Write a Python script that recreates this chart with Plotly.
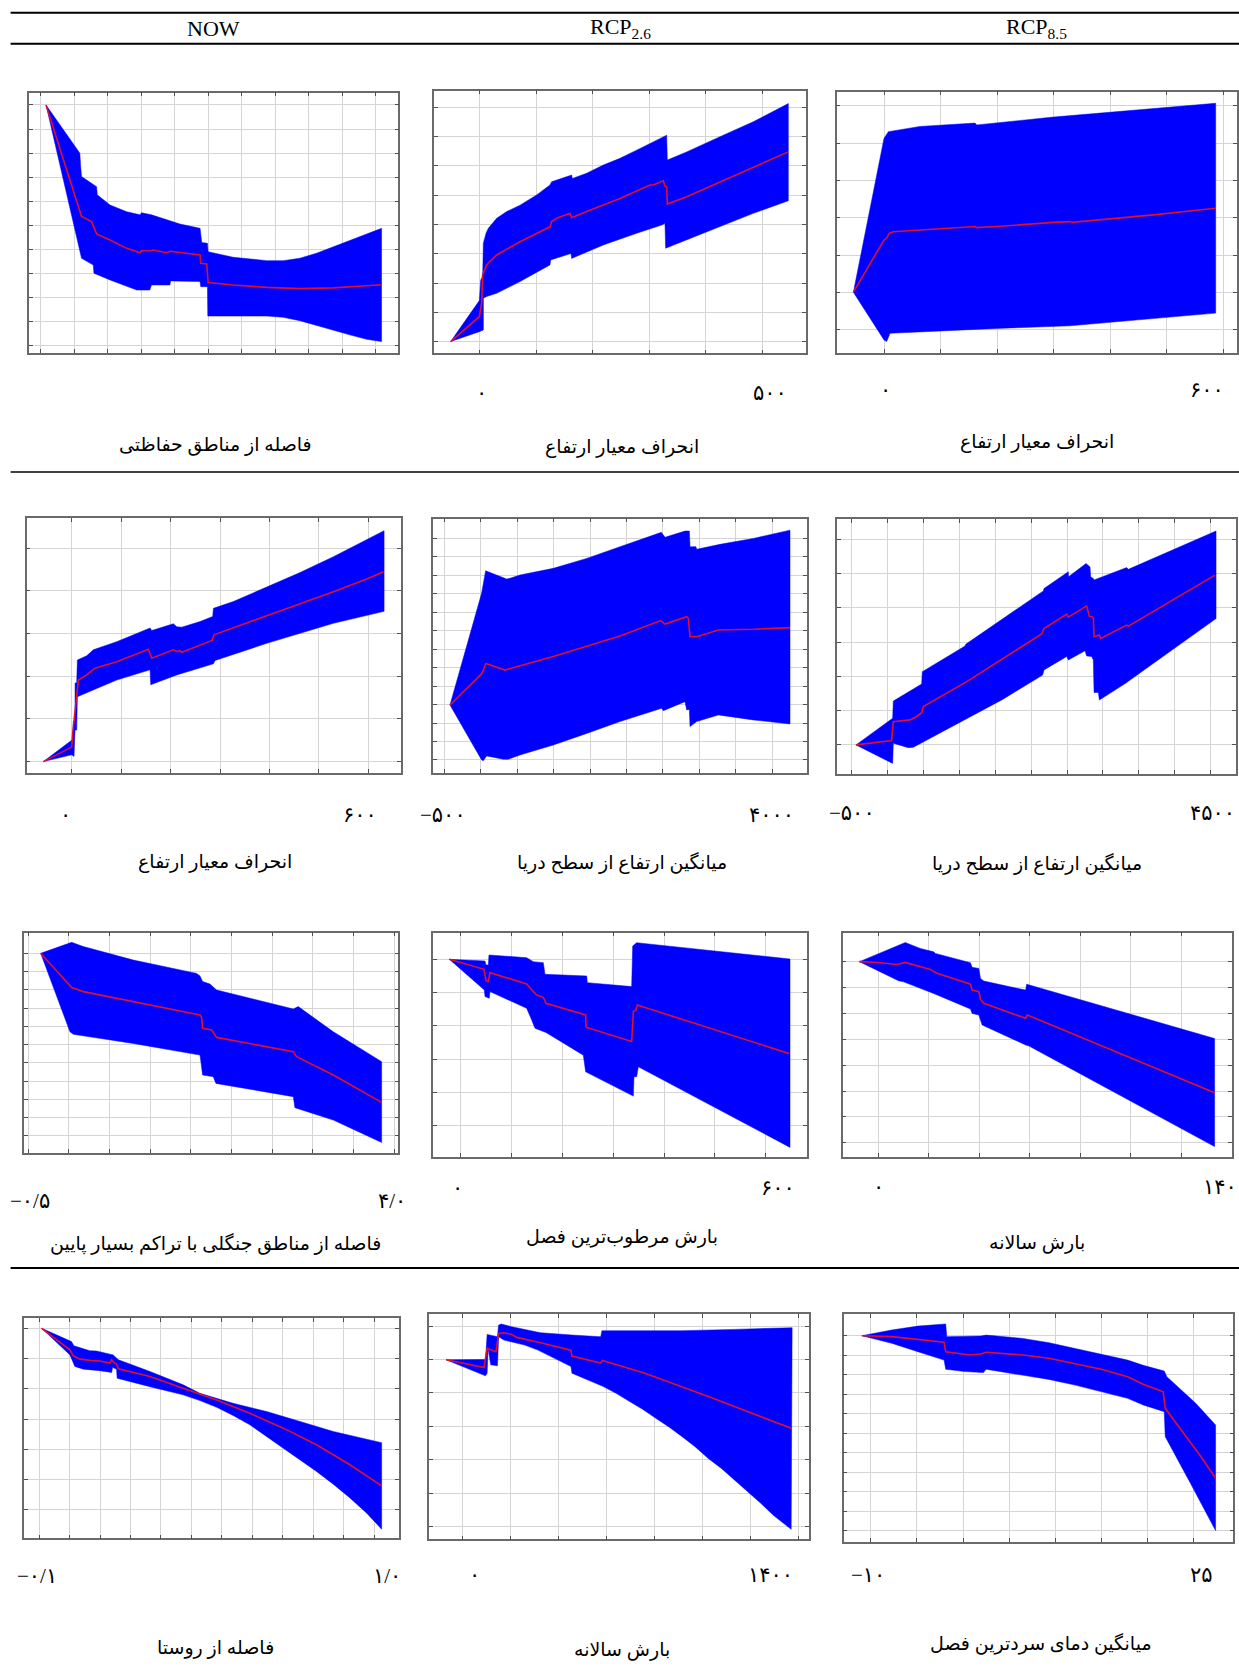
import plotly.graph_objects as go

# ---------------- data: x in variable units, y = relative response (grid units) ----------------
# Row 1 - NOW : distance from protected areas
now_prot_upper = [(0.16,10.0),(1.17,8.0),(1.19,7.51),(1.22,7.03),(1.67,6.61),(1.69,6.27),(2.07,5.85),(2.57,5.57),(2.97,5.44),(3.01,5.53),(3.31,5.44),(3.76,5.23),(4.16,5.06),(4.76,4.88),(4.81,4.29),(4.98,4.26),(5.00,3.91),(5.75,3.68),(6.75,3.54),(7.24,3.54),(7.74,3.64),(8.24,3.85),(8.74,4.12),(9.23,4.40),(9.73,4.67),(10.18,4.88)]
now_prot_lower = [(0.16,10.0),(1.22,3.64),(1.57,3.36),(1.59,3.02),(2.07,2.74),(2.87,2.32),(3.26,2.32),(3.31,2.53),(3.86,2.53),(3.88,2.70),(4.76,2.67),(4.78,2.46),(4.98,2.46),(4.99,1.24),(5.75,1.24),(6.75,1.24),(7.24,1.19),(7.74,1.05),(8.24,0.87),(8.74,0.66),(9.23,0.46),(9.73,0.28),(10.18,0.18)]
now_prot_mean = [(0.16,10.0),(1.19,5.50),(1.22,5.37),(1.52,5.16),(1.67,4.65),(2.07,4.40),(2.57,4.05),(2.97,3.87),(3.01,3.96),(3.26,3.94),(3.36,3.98),(3.76,3.87),(3.86,3.93),(4.76,3.78),(4.78,3.43),(4.96,3.40),(5.00,2.63),(5.75,2.53),(6.75,2.43),(7.74,2.38),(8.74,2.41),(9.73,2.50),(10.18,2.54)]

# Row 1 - RCP2.6 : std. deviation of elevation
r26_sd_upper = [(-50.6,0.0),(0.0,1.40),(2.4,2.10),(5.9,2.22),(7.1,3.36),(11.8,3.70),(15.9,3.87),(30.6,4.21),(48.2,4.44),(71.8,4.66),(101.2,5.01),(124.7,5.35),(127.6,5.46),(154.1,5.65),(162.9,5.69),(164.1,5.57),(189.4,5.75),(218.8,6.03),(248.2,6.26),(277.6,6.54),(307.1,6.83),(330.6,7.05),(331.8,6.20),(365.9,6.48),(424.7,7.00),(483.5,7.51),(545.3,8.13)]
r26_sd_lower = [(-50.6,0.0),(0.0,0.34),(7.1,0.40),(7.2,1.48),(12.9,1.54),(30.6,1.65),(71.8,2.05),(124.7,2.62),(125.9,2.79),(161.8,3.01),(162.9,2.84),(218.8,3.30),(277.6,3.70),(321.8,3.98),(327.6,4.04),(328.8,3.19),(365.9,3.47),(424.7,3.92),(483.5,4.38),(545.3,4.81)]
r26_sd_mean = [(-50.6,0.0),(0.0,0.85),(4.1,1.31),(5.9,2.28),(12.9,2.62),(30.6,2.96),(71.8,3.41),(124.7,3.92),(127.6,4.10),(136.5,4.21),(160.0,4.38),(162.9,4.23),(189.4,4.44),(224.7,4.72),(248.2,4.89),(301.2,5.35),(307.1,5.35),(324.7,5.49),(327.6,5.31),(330.6,5.29),(331.8,4.70),(365.9,4.95),(424.7,5.46),(483.5,5.95),(545.3,6.48)]

# Row 1 - RCP8.5 : std. deviation of elevation
r85_sd_upper = [(-54.2,1.01),(0.0,5.13),(7.7,5.31),(63.6,5.45),(160.9,5.54),(163.8,5.49),(299.4,5.70),(417.2,5.85),(476.1,5.91),(586.3,6.07)]
r85_sd_lower = [(-54.2,1.01),(0.0,-0.27),(4.7,-0.31),(10.6,-0.09),(63.6,-0.04),(199.2,0.04),(328.8,0.11),(417.2,0.22),(586.3,0.45)]
r85_sd_mean = [(-54.2,1.01),(0.0,2.41),(4.7,2.46),(9.4,2.59),(16.5,2.63),(63.6,2.68),(160.9,2.77),(163.8,2.74),(199.2,2.77),(299.4,2.88),(328.8,2.90),(331.8,2.88),(417.2,2.99),(476.1,3.08),(586.3,3.26)]

# Row 2 - NOW : std. deviation of elevation
now_sd_upper = [(-57.3,0.0),(2.0,0.52),(3.4,0.94),(6.7,0.98),(6.8,1.84),(10.1,1.85),(11.5,2.38),(30.3,2.48),(43.8,2.62),(91.0,2.81),(158.5,3.13),(161.8,3.07),(205.7,3.23),(212.4,3.16),(222.5,3.15),(259.6,3.28),(285.2,3.40),(286.6,3.59),(327.0,3.75),(394.5,4.09),(461.9,4.43),(529.3,4.80),(596.8,5.20),(631.8,5.41)]
now_sd_lower = [(-57.3,0.0),(0.0,0.16),(4.7,0.12),(6.7,0.74),(10.1,0.74),(11.5,1.52),(43.8,1.68),(91.0,1.91),(158.5,2.15),(159.8,1.80),(212.4,2.03),(222.5,2.05),(286.6,2.29),(290.0,2.37),(394.5,2.77),(529.3,3.24),(631.8,3.52)]
now_sd_mean = [(-57.3,0.0),(0.0,0.34),(2.0,0.66),(4.7,0.94),(8.8,1.29),(13.5,1.91),(30.3,2.03),(47.2,2.19),(91.0,2.34),(155.1,2.63),(161.8,2.42),(205.7,2.62),(212.4,2.58),(219.1,2.60),(222.5,2.56),(283.9,2.84),(287.9,2.97),(327.0,3.13),(394.5,3.41),(461.9,3.70),(529.3,3.98),(596.8,4.28),(630.5,4.45)]

# Row 2 - RCP2.6 : mean elevation above sea level
r26_elev_upper = [(-422,2.98),(12,9.03),(67,10.25),(356,9.80),(401,9.84),(539,10.02),(996,10.38),(1454,10.92),(1911,11.55),(2478,12.33),(2529,12.06),(2803,12.40),(2863,12.40),(2872,11.55),(2954,11.55),(2963,11.41),(3284,11.68),(3741,12.00),(4244,12.45)]
r26_elev_lower = [(-422,2.98),(12,0.0),(35,-0.04),(81,0.22),(310,0.04),(378,0.04),(539,0.27),(996,0.81),(1454,1.44),(1911,2.08),(2483,2.80),(2506,2.67),(2803,3.16),(2826,2.71),(2863,2.74),(2872,1.81),(2963,2.08),(3261,2.44),(3741,2.17),(4244,1.95)]
r26_elev_mean = [(-422,2.98),(12,4.66),(35,4.87),(72,5.23),(333,4.87),(378,4.91),(493,5.05),(996,5.60),(1454,6.14),(1911,6.71),(2469,7.55),(2529,7.36),(2826,7.76),(2849,7.67),(2872,6.68),(2963,6.68),(3261,7.04),(3741,7.08),(4244,7.17)]

# Row 2 - RCP8.5 : mean elevation above sea level
r85_elev_upper = [(-440,0.0),(71,0.78),(80,1.28),(475,1.78),(484,2.14),(1079,2.89),(1088,2.94),(2170,4.50),(2179,4.57),(2518,5.06),(2520,4.91),(2764,5.30),(2820,5.20),(2829,4.91),(2866,4.86),(2876,4.82),(3330,5.18),(3354,5.13),(4575,6.25)]
r85_elev_lower = [(-440,0.0),(71,-0.54),(80,0.05),(289,-0.08),(359,-0.07),(1603,1.33),(2160,2.04),(2179,2.19),(2495,2.58),(2518,2.48),(2750,2.75),(2773,2.60),(2843,2.58),(2866,2.48),(2876,1.53),(2936,1.53),(2950,1.31),(3331,1.82),(3354,1.86),(4575,3.69)]
r85_elev_mean = [(-440,0.0),(57,0.13),(80,0.68),(313,0.73),(405,0.83),(475,0.94),(498,1.12),(1102,1.85),(2147,3.24),(2179,3.40),(2495,3.82),(2518,3.73),(2773,4.06),(2810,3.76),(2843,3.75),(2866,3.70),(2876,3.16),(2950,3.21),(2968,3.11),(3330,3.50),(3354,3.47),(4561,4.96)]

# Row 3 - NOW : distance from very-low-density forest
now_forest_upper = [(-0.348,10.0),(0.033,10.60),(0.176,10.37),(0.791,9.63),(1.570,8.90),(1.611,8.76),(1.643,8.45),(1.733,8.32),(1.815,7.99),(2.758,6.95),(2.819,7.08),(3.250,5.70),(3.844,4.06)]
now_forest_lower = [(-0.348,10.0),(0.012,5.70),(0.053,5.56),(0.791,5.06),(1.611,4.42),(1.643,3.33),(1.774,3.24),(1.807,2.87),(2.758,2.14),(2.778,1.54),(3.250,0.86),(3.844,-0.37)]
now_forest_mean = [(-0.348,10.0),(0.033,8.12),(0.176,7.90),(0.791,7.35),(1.611,6.62),(1.631,6.49),(1.643,5.89),(1.754,5.80),(1.815,5.39),(2.758,4.61),(2.799,4.33),(3.250,3.33),(3.844,1.83)]

# Row 3 - RCP2.6 : precipitation of wettest quarter
r26_wet_upper = [(-22.3,5.0),(47.9,4.95),(49.8,4.83),(54.4,4.83),(55.7,5.13),(129.8,5.05),(143.0,4.93),(162.6,4.90),(165.9,4.55),(247.9,4.50),(249.2,4.30),(336.4,4.18),(338.4,5.40),(346.2,5.50),(647.9,5.01)]
r26_wet_lower = [(-22.3,5.0),(46.6,4.08),(47.9,3.88),(56.4,3.83),(57.7,4.03),(129.8,3.53),(139.7,3.18),(146.2,2.93),(167.9,2.80),(241.3,2.12),(245.9,1.62),(339.7,0.89),(341.0,1.47),(346.2,1.47),(349.5,1.77),(647.9,-0.65)]
r26_wet_mean = [(-22.3,5.0),(45.9,4.70),(49.8,4.36),(54.4,4.33),(57.7,4.60),(129.8,4.26),(143.0,4.03),(149.5,3.93),(162.6,3.86),(167.9,3.68),(245.9,3.33),(246.6,2.96),(336.4,2.53),(339.7,3.43),(344.9,3.48),(347.5,3.63),(645.9,2.17)]

# Row 3 - RCP8.5 : annual precipitation
r85_prec_upper = [(-7.55,7.0),(7.28,7.58),(10.60,7.74),(16.56,7.51),(21.85,7.38),(22.52,7.32),(36.42,6.96),(37.09,6.78),(39.74,6.74),(40.40,6.35),(41.72,6.25),(58.28,5.90),(58.68,6.13),(133.1,4.03)]
r85_prec_lower = [(-7.55,7.0),(7.95,6.26),(9.93,6.22),(21.85,5.77),(36.42,5.17),(37.09,5.00),(39.74,4.94),(40.40,4.74),(41.06,4.55),(58.28,3.78),(59.60,3.74),(133.1,-0.15)]
r85_prec_mean = [(-7.55,7.0),(0.0,6.97),(7.28,6.89),(10.60,6.97),(20.53,6.70),(23.18,6.55),(36.42,6.13),(37.09,5.90),(39.74,5.84),(40.40,5.54),(41.72,5.39),(58.28,4.81),(58.94,4.94),(133.1,1.93)]

# Row 4 - NOW : distance from village
now_vil_upper = [(-0.092,6.0),(0.006,5.56),(0.014,5.42),(0.066,5.26),(0.088,5.25),(0.132,5.15),(0.143,5.12),(0.160,4.96),(0.264,4.57),(0.373,4.13),(0.428,3.85),(0.537,3.52),(0.647,3.25),(0.757,2.92),(0.866,2.59),(1.025,2.22)]
now_vil_lower = [(-0.092,6.0),(0.001,5.12),(0.017,4.74),(0.045,4.65),(0.099,4.60),(0.138,4.54),(0.141,4.71),(0.154,4.65),(0.156,4.35),(0.264,4.07),(0.373,3.80),(0.428,3.61),(0.483,3.39),(0.537,3.12),(0.592,2.81),(0.647,2.44),(0.702,2.04),(0.757,1.65),(0.811,1.27),(0.866,0.85),(0.921,0.39),(0.976,-0.11),(1.025,-0.64)]
now_vil_mean = [(-0.092,6.0),(0.001,5.29),(0.012,5.09),(0.034,4.98),(0.077,4.93),(0.099,4.92),(0.132,4.85),(0.138,4.96),(0.145,4.87),(0.154,4.82),(0.160,4.66),(0.264,4.41),(0.373,4.02),(0.483,3.63),(0.592,3.19),(0.702,2.70),(0.811,2.15),(0.921,1.49),(1.025,0.79)]

# Row 4 - RCP2.6 : annual precipitation
r26_prec_upper = [(-70,4.99),(94,5.00),(101,5.75),(144,5.68),(149,6.03),(160,6.06),(203,5.98),(324,5.80),(455,5.73),(575,5.68),(580,5.86),(915,5.86),(1133,5.90),(1374,5.95)]
r26_prec_lower = [(-70,4.99),(94,4.51),(101,4.59),(105,5.33),(116,4.84),(144,4.81),(149,5.68),(171,5.58),(258,5.43),(313,5.28),(368,5.08),(451,4.79),(455,4.59),(586,4.19),(641,3.98),(696,3.74),(750,3.51),(805,3.24),(860,2.98),(915,2.69),(969,2.39),(1024,2.04),(1079,1.74),(1133,1.40),(1188,1.05),(1243,0.70),(1297,0.33),(1370,-0.08)]
r26_prec_mean = [(-70,4.99),(88,4.76),(101,5.33),(116,5.28),(138,5.23),(149,5.78),(171,5.80),(203,5.75),(225,5.66),(324,5.50),(451,5.28),(455,5.10),(575,4.89),(582,4.97),(696,4.74),(750,4.61),(805,4.47),(860,4.33),(915,4.19),(969,4.04),(1024,3.89),(1079,3.74),(1133,3.59),(1188,3.44),(1243,3.29),(1297,3.12),(1370,2.94)]

# Row 4 - RCP8.5 : mean temperature of coldest quarter
r85_cold_upper = [(-10.96,10.0),(-7.73,10.29),(-4.89,10.49),(-2.62,10.60),(-1.88,10.60),(-1.77,9.95),(1.92,9.98),(2.49,10.03),(6.46,9.86),(9.30,9.64),(12.13,9.35),(14.97,9.06),(17.81,8.75),(19.51,8.48),(21.78,8.19),(22.06,7.90),(25.19,6.54),(27.34,5.43)]
r85_cold_lower = [(-10.96,10.0),(-7.73,9.61),(-4.89,9.18),(-2.06,8.75),(-1.88,8.28),(0.22,8.16),(2.20,8.11),(2.49,8.28),(6.46,7.99),(9.30,7.76),(12.13,7.47),(14.97,7.13),(17.81,6.79),(19.51,6.45),(21.78,6.11),(21.89,4.83),(24.62,2.44),(27.34,0.02)]
r85_cold_mean = [(-10.96,10.0),(-7.73,9.95),(-2.06,9.66),(-1.88,9.18),(0.78,9.01),(1.92,9.06),(2.49,9.15),(6.46,9.01),(9.30,8.84),(12.13,8.58),(14.97,8.28),(17.81,7.90),(19.51,7.51),(21.67,7.13),(21.89,6.28),(23.48,5.26),(25.75,3.81),(27.34,2.70)]

# text
col_headers = ["NOW", "RCP<sub>2.6</sub>", "RCP<sub>8.5</sub>"]
titles = ["فاصله از مناطق حفاظتی", "انحراف معیار ارتفاع", "انحراف معیار ارتفاع",
          "انحراف معیار ارتفاع", "میانگین ارتفاع از سطح دریا", "میانگین ارتفاع از سطح دریا",
          "فاصله از مناطق جنگلی با تراکم بسیار پایین", "بارش مرطوب‌ترین فصل", "بارش سالانه",
          "فاصله از روستا", "بارش سالانه", "میانگین دمای سردترین فصل"]
end_labels = [None, ("۰", "۵۰۰"), ("۰", "۶۰۰"),
              ("۰", "۶۰۰"), ("−۵۰۰", "۴۰۰۰"), ("−۵۰۰", "۴۵۰۰"),
              ("−۰/۵", "۴/۰"), ("۰", "۶۰۰"), ("۰", "۱۴۰"),
              ("−۰/۱", "۱/۰"), ("۰", "۱۴۰۰"), ("−۱۰", "۲۵")]

# ---------------- layout description ----------------
W, H = 1239, 1670
panels = [
    dict(c=(now_prot_upper, now_prot_lower, now_prot_mean), box=(29.3, 92.7, 398.3, 352.7), xr=(-0.34, 10.68), yr=(-0.28, 10.51), xt=(0, 1, 11), yt=(0, 1, 11),
         lab=None, title=(215, 445)),
    dict(c=(r26_sd_upper, r26_sd_lower, r26_sd_mean), box=(434, 90.7, 806, 353.3), xr=(-80, 576.5), yr=(-0.40, 8.57), xt=(0, 100, 6), yt=(0, 1, 9),
         lab=((481, 393), (770, 393)), title=(622, 447)),
    dict(c=(r85_sd_upper, r85_sd_lower, r85_sd_mean), box=(836.7, 91.7, 1237, 352.7), xr=(-83.7, 624), yr=(-0.61, 6.38), xt=(0, 100, 7), yt=(0, 1, 7),
         lab=((885, 390), (1207, 390)), title=(1037, 442)),
    dict(c=(now_sd_upper, now_sd_lower, now_sd_mean), box=(26.7, 518.3, 401, 772.7), xr=(-91, 666), yr=(-0.26, 5.70), xt=(0, 100, 7), yt=(0, 1, 6),
         lab=((65, 815), (360, 815)), title=(215, 862)),
    dict(c=(r26_elev_upper, r26_elev_lower, r26_elev_mean), box=(433.3, 518.7, 806.7, 772.7), xr=(-651, 4473), yr=(-0.69, 13.07), xt=(-500, 500, 10), yt=(0, 1, 13),
         lab=((443, 815), (772, 815)), title=(622, 862)),
    dict(c=(r85_elev_upper, r85_elev_lower, r85_elev_mean), box=(837.3, 519, 1236, 774), xr=(-700, 4853), yr=(-0.85, 6.60), xt=(-500, 500, 11), yt=(0, 1, 7),
         lab=((852, 813), (1212, 813)), title=(1037, 863)),
    dict(c=(now_forest_upper, now_forest_lower, now_forest_mean), box=(24, 932.7, 398.3, 1152.7), xr=(-0.553, 4.049), yr=(-0.93, 11.13), xt=(-0.5, 0.5, 10), yt=(0, 1, 11),
         lab=((30, 1201), (392, 1201)), title=(215, 1243)),
    dict(c=(r26_wet_upper, r26_wet_lower, r26_wet_mean), box=(433.3, 932.7, 806.7, 1156.7), xr=(-53.8, 680.7), yr=(-0.93, 5.80), xt=(0, 100, 7), yt=(0, 1, 6),
         lab=((457, 1188), (778, 1188)), title=(622, 1237)),
    dict(c=(r85_prec_upper, r85_prec_lower, r85_prec_mean), box=(842.7, 932.7, 1232, 1156.7), xr=(-14.17, 140), yr=(-0.54, 8.12), xt=(0, 20, 8), yt=(0, 1, 8),
         lab=((878, 1187), (1220, 1187)), title=(1037, 1243)),
    dict(c=(now_vil_upper, now_vil_lower, now_vil_mean), box=(24.3, 1318.3, 399, 1538.3), xr=(-0.149, 1.082), yr=(-0.94, 6.33), xt=(-0.1, 0.1, 12), yt=(0, 1, 7),
         lab=((37, 1576), (387, 1576)), title=(215, 1648)),
    dict(c=(r26_prec_upper, r26_prec_lower, r26_prec_mean), box=(429.4, 1314, 808.9, 1539.3), xr=(-140, 1444), yr=(-0.38, 6.36), xt=(0, 200, 8), yt=(0, 1, 7),
         lab=((474, 1575), (770, 1575)), title=(622, 1650)),
    dict(c=(r85_cold_upper, r85_cold_lower, r85_cold_mean), box=(843.5, 1314, 1233.4, 1541.7), xr=(-12.95, 29.27), yr=(-0.55, 11.11), xt=(-10, 5, 8), yt=(0, 1, 11),
         lab=((868, 1575), (1201, 1575)), title=(1041, 1643)),
]

FONT = "Times New Roman, Liberation Serif, DejaVu Serif, DejaVu Sans"
fig = go.Figure()
layout = {}
annotations = []
axis_common = dict(showticklabels=False, ticks="inside", ticklen=4, tickwidth=1, tickcolor="#505050",
                   showgrid=True, gridcolor="#d4d4d4", gridwidth=1, showline=True, linecolor="#6a6a6a",
                   linewidth=1.5, mirror="ticks", zeroline=False, fixedrange=True)

for i, p in enumerate(panels, start=1):
    key = "" if i == 1 else str(i)
    xa, ya = "x" + key, "y" + key
    up, lo, mn = p["c"]
    bx = [a for a, b in up] + [a for a, b in reversed(lo)]
    by = [b for a, b in up] + [b for a, b in reversed(lo)]
    fig.add_trace(go.Scatter(x=bx, y=by, fill="toself", fillcolor="#0000ff", mode="lines",
                             line=dict(width=0.5, color="#0000ff"), xaxis=xa, yaxis=ya,
                             showlegend=False, hoverinfo="skip"))
    fig.add_trace(go.Scatter(x=[a for a, b in mn], y=[b for a, b in mn], mode="lines",
                             line=dict(color="#e0102a", width=1.6), xaxis=xa, yaxis=ya,
                             showlegend=False))
    x0, y0, x1, y1 = p["box"]
    s, st, n = p["xt"]
    ys, yst, yn = p["yt"]
    layout["xaxis" + key] = dict(domain=[x0 / W, x1 / W], range=list(p["xr"]),
                                 tickvals=[round(s + k * st, 6) for k in range(n)], anchor=ya, **axis_common)
    layout["yaxis" + key] = dict(domain=[1 - y1 / H, 1 - y0 / H], range=list(p["yr"]),
                                 tickvals=[ys + k * yst for k in range(yn)], anchor=xa, **axis_common)
    if p["lab"]:
        for (lx, ly), txt in zip(p["lab"], end_labels[i - 1]):
            annotations.append(dict(text=txt, x=lx / W, y=1 - ly / H, xref="paper", yref="paper",
                                    showarrow=False, xanchor="center", yanchor="middle",
                                    font=dict(family=FONT, size=21, color="#000")))
    tx, ty = p["title"]
    annotations.append(dict(text=titles[i - 1], x=tx / W, y=1 - ty / H, xref="paper", yref="paper",
                            showarrow=False, xanchor="center", yanchor="middle",
                            font=dict(family=FONT, size=19, color="#000")))

for txt, hx in zip(col_headers, (213, 620, 1036)):
    annotations.append(dict(text=txt, x=hx / W, y=1 - 28.5 / H, xref="paper", yref="paper",
                            showarrow=False, xanchor="center", yanchor="middle",
                            font=dict(family=FONT, size=22, color="#000")))

shapes = []
for ry, lw in ((12.8, 2), (43.7, 2), (472, 1.5), (1268, 2)):
    shapes.append(dict(type="line", xref="paper", yref="paper", x0=10.6 / W, x1=1.0,
                       y0=1 - ry / H, y1=1 - ry / H, line=dict(color="#000", width=lw)))

fig.update_layout(width=W, height=H, autosize=False, margin=dict(l=0, r=0, t=0, b=0),
                  paper_bgcolor="white", plot_bgcolor="white", annotations=annotations,
                  shapes=shapes, showlegend=False, **layout)

fig.write_html("out.html", config={"displayModeBar": False},
               post_script="document.body.style.margin='0';")
